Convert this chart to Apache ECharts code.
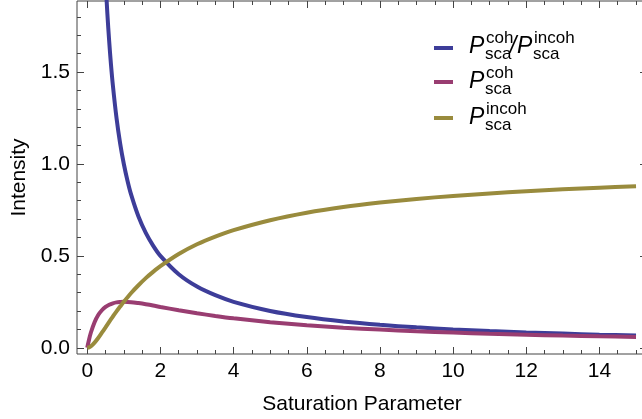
<!DOCTYPE html>
<html>
<head>
<meta charset="utf-8">
<script src="https://cdn.jsdelivr.net/npm/echarts@6/dist/echarts.min.js"></script>
<style>
html,body{margin:0;padding:0;background:#fff;}
#chart{width:642px;height:419px;}
</style>
</head>
<body>
<div id="chart"></div>
<script>
// ---- data ----
var sValues = [0, 0.05, 0.1, 0.2, 0.3, 0.4, 0.5, 0.6, 0.7, 0.8, 0.9, 1.0, 1.2, 1.4, 1.6, 1.8, 2.0, 2.5, 3.0, 3.5, 4.0, 5.0, 6.0, 7.0, 8.0, 9.0, 10.0, 11.0, 12.0, 13.0, 14.0, 15.0];
var cohValues = [0, 0.045, 0.083, 0.139, 0.178, 0.204, 0.222, 0.234, 0.242, 0.247, 0.249, 0.25, 0.248, 0.243, 0.237, 0.230, 0.222, 0.204, 0.188, 0.173, 0.16, 0.139, 0.122, 0.109, 0.099, 0.09, 0.083, 0.076, 0.071, 0.066, 0.062, 0.059];
var incohValues = [0, 0.002, 0.008, 0.028, 0.053, 0.082, 0.111, 0.141, 0.170, 0.198, 0.224, 0.25, 0.298, 0.340, 0.379, 0.413, 0.444, 0.510, 0.563, 0.605, 0.64, 0.694, 0.735, 0.766, 0.790, 0.81, 0.826, 0.840, 0.852, 0.862, 0.871, 0.879];
var ratioS = [0.5, 0.55, 0.6, 0.65, 0.7, 0.8, 0.9, 1.0, 1.1, 1.2, 1.4, 1.6, 1.8, 2.0, 2.5, 3.0, 3.5, 4.0, 5.0, 6.0, 7.0, 8.0, 9.0, 10.0, 11.0, 12.0, 13.0, 14.0, 15.0];
var ratioValues = [2.0, 1.818, 1.667, 1.538, 1.429, 1.25, 1.111, 1.0, 0.909, 0.833, 0.714, 0.625, 0.556, 0.5, 0.4, 0.333, 0.286, 0.25, 0.2, 0.167, 0.143, 0.125, 0.111, 0.1, 0.091, 0.083, 0.077, 0.071, 0.067];
var xMajorTicks = [0, 2, 4, 6, 8, 10, 12, 14];
var xMinorTicks = [0.5, 1, 1.5, 2.5, 3, 3.5, 4.5, 5, 5.5, 6.5, 7, 7.5, 8.5, 9, 9.5, 10.5, 11, 11.5, 12.5, 13, 13.5, 14.5, 15];
var yMajorTicks = [0, 0.5, 1.0, 1.5];
var yMinorTicks = [0.1, 0.2, 0.3, 0.4, 0.6, 0.7, 0.8, 0.9, 1.1, 1.2, 1.3, 1.4, 1.6, 1.7, 1.8];
var seriesNames = ['ratio', 'coh', 'incoh'];
var seriesColors = ['#3D3D99', '#993D71', '#998B3D'];
var xAxisTitle = 'Saturation Parameter';
var yAxisTitle = 'Intensity';

function zip(xs, ys){ return xs.map(function(x,i){ return [x, ys[i]]; }); }

var FONT = '"Liberation Sans", Arial, sans-serif';
var FRAME = '#444';
var X_MIN = -0.28, X_MAX = 15.3, Y_MIN = -0.034, Y_MAX = 1.887;

function xAx(pos, vals, len, withLabel, extra){
  var a = {
    type: 'value', position: pos, min: X_MIN, max: X_MAX, offset: 0,
    axisLine: {show: false, onZero: false},
    splitLine: {show: false},
    axisTick: {show: true, inside: true, length: len, customValues: vals, lineStyle: {color: FRAME, width: 1}},
    axisLabel: withLabel ? {show: true, customValues: vals, margin: 7, color: '#000', fontSize: 21, fontFamily: FONT} : {show: false}
  };
  for (var k in (extra||{})) a[k] = extra[k];
  return a;
}
function yAx(pos, vals, len, withLabel, extra){
  var a = {
    type: 'value', position: pos, min: Y_MIN, max: Y_MAX, offset: 0,
    axisLine: {show: false, onZero: false},
    splitLine: {show: false},
    axisTick: {show: true, inside: true, length: len, customValues: vals, lineStyle: {color: FRAME, width: 1}},
    axisLabel: withLabel ? {show: true, customValues: vals, margin: 7, color: '#000', fontSize: 21, fontFamily: FONT,
      formatter: function(v){ return v.toFixed(1); }} : {show: false}
  };
  for (var k in (extra||{})) a[k] = extra[k];
  return a;
}

// legend graphics (swatch + stacked sub/superscript text); y = vertical middle of text
var legendRows = [48, 82, 118];
var graphics = [];
function txt(x, y, s, size, italic){
  return {type: 'text', x: x, y: y, silent: true,
    style: {text: s, fill: '#000', font: (italic ? 'italic ' : '') + size + 'px ' + FONT, verticalAlign: 'middle', align: 'left'}};
}
legendRows.forEach(function(ry, i){
  graphics.push({type: 'rect', shape: {x: 434, y: ry - 2, width: 19, height: 4}, style: {fill: seriesColors[i]}, silent: true});
});
// row 1: P_sca^coh / P_sca^incoh
graphics.push(txt(469, 47, 'P', 23, true));
graphics.push(txt(486, 38, 'coh', 17, false));
graphics.push(txt(485, 54, 'sca', 17, false));
graphics.push(txt(510, 47, '/', 23, true));
graphics.push(txt(517, 47, 'P', 23, true));
graphics.push(txt(534, 38, 'incoh', 17, false));
graphics.push(txt(533, 54, 'sca', 17, false));
// row 2
graphics.push(txt(469, 82, 'P', 23, true));
graphics.push(txt(486, 73, 'coh', 17, false));
graphics.push(txt(485, 89, 'sca', 17, false));
// row 3
graphics.push(txt(469, 118, 'P', 23, true));
graphics.push(txt(486, 109, 'incoh', 17, false));
graphics.push(txt(485, 125, 'sca', 17, false));

var chart = echarts.init(document.getElementById('chart'), null, {renderer: 'canvas'});
chart.setOption({
  animation: false,
  backgroundColor: '#fff',
  grid: {left: 77, right: -5, top: 1, bottom: 65, show: true, borderColor: FRAME, borderWidth: 1,
         containLabel: false, outerBoundsMode: 'none'},
  xAxis: [
    xAx('bottom', xMajorTicks, 7, true, {name: xAxisTitle, nameLocation: 'middle', nameGap: 40,
        nameTextStyle: {color: '#000', fontSize: 21, fontFamily: FONT}}),
    xAx('top', xMajorTicks, 7, false),
    xAx('top', xMinorTicks, 4, false),
    xAx('bottom', xMinorTicks, 4, false)
  ],
  yAxis: [
    yAx('left', yMajorTicks, 7, true, {name: yAxisTitle, nameLocation: 'middle', nameGap: 46, nameRotate: 90,
        nameTextStyle: {color: '#000', fontSize: 21, fontFamily: FONT}}),
    yAx('right', yMajorTicks, 7, false),
    yAx('right', yMinorTicks, 4, false),
    yAx('left', yMinorTicks, 4, false)
  ],
  graphic: graphics,
  series: [
    {name: seriesNames[0], type: 'line', data: zip(ratioS, ratioValues), xAxisIndex: 0, yAxisIndex: 0,
     showSymbol: false, smooth: 0.3, clip: true, lineStyle: {color: seriesColors[0], width: 4}, z: 3},
    {name: seriesNames[1], type: 'line', data: zip(sValues, cohValues), xAxisIndex: 0, yAxisIndex: 0,
     showSymbol: false, smooth: 0.3, clip: true, lineStyle: {color: seriesColors[1], width: 4}, z: 4},
    {name: seriesNames[2], type: 'line', data: zip(sValues, incohValues), xAxisIndex: 0, yAxisIndex: 0,
     showSymbol: false, smooth: 0.3, clip: true, lineStyle: {color: seriesColors[2], width: 4}, z: 5}
  ]
});
</script>
</body>
</html>
